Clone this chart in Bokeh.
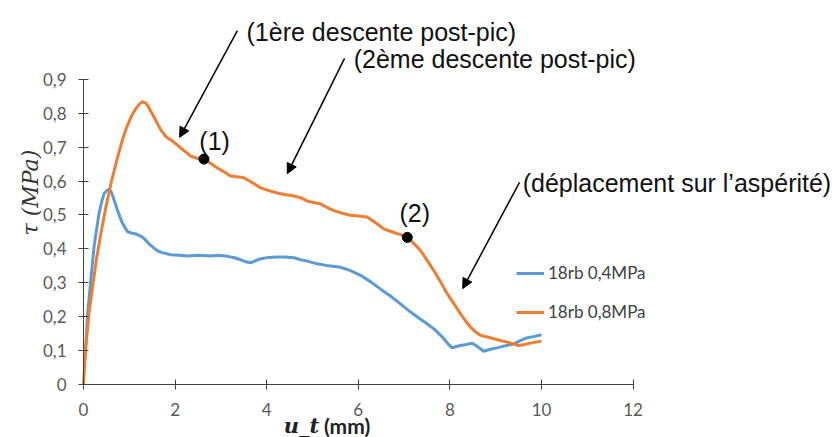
import math
from bokeh.plotting import figure
from bokeh.models import (Range1d, Label, Arrow, NormalHead, Legend, LegendItem,
                          FixedTicker)
from bokeh.embed import file_html
from bokeh.resources import INLINE

# ---- data ----
x_04 = [0.02, 0.05, 0.09, 0.12, 0.16, 0.23, 0.3, 0.34, 0.4, 0.45, 0.54, 0.6, 0.63, 0.68, 0.74, 0.8,
        0.85, 0.96, 1.05, 1.14, 1.25, 1.32, 1.43, 1.51, 1.61, 1.72, 1.91, 2.1, 2.27, 2.5, 2.78,
        2.95, 3.14, 3.3, 3.43, 3.55, 3.65, 3.75, 3.87, 4.05, 4.23, 4.4, 4.6, 4.74, 4.89, 5.1,
        5.35, 5.61, 5.83, 6.05, 6.28, 6.48, 6.7, 6.92, 7.1, 7.29, 7.47, 7.65, 7.76, 7.87, 7.96,
        8.05, 8.14, 8.23, 8.36, 8.49, 8.6, 8.74, 8.88, 9.03, 9.2, 9.4, 9.55, 9.69, 9.85, 10.0]
tau_04 = [0.063, 0.11, 0.21, 0.25, 0.308, 0.406, 0.47, 0.505, 0.54, 0.564, 0.576, 0.57, 0.559, 0.54, 0.515, 0.493,
          0.476, 0.451, 0.447, 0.444, 0.438, 0.431, 0.415, 0.406, 0.395, 0.389, 0.383, 0.381, 0.379, 0.381, 0.379,
          0.381, 0.378, 0.374, 0.368, 0.362, 0.359, 0.365, 0.371, 0.375, 0.376, 0.376, 0.374, 0.368, 0.364, 0.356,
          0.35, 0.346, 0.336, 0.322, 0.302, 0.282, 0.261, 0.238, 0.218, 0.199, 0.182, 0.164, 0.15, 0.135, 0.12,
          0.108, 0.112, 0.115, 0.118, 0.122, 0.112, 0.098, 0.104, 0.108, 0.114, 0.12, 0.13, 0.138, 0.142, 0.147]

x_08 = [0.0, 0.05, 0.12, 0.2, 0.28, 0.38, 0.49, 0.6, 0.71, 0.78, 0.85, 0.92, 0.99, 1.06, 1.14, 1.22, 1.29, 1.35,
        1.4, 1.47, 1.54, 1.62, 1.69, 1.8, 1.91, 2.02, 2.12, 2.23, 2.34, 2.48,
        2.63, 2.78, 2.92, 3.06, 3.21, 3.35, 3.5, 3.68, 3.87, 4.05, 4.23, 4.42, 4.6, 4.74, 4.89,
        5.05, 5.17, 5.32, 5.47, 5.65, 5.83, 6.0, 6.19, 6.37, 6.56, 6.7, 6.85, 6.97, 7.08, 7.22,
        7.36, 7.5, 7.65, 7.8, 7.94, 8.09, 8.23, 8.34, 8.45, 8.56, 8.67, 8.82, 8.96, 9.1, 9.25,
        9.38, 9.5, 9.63, 9.76, 9.88, 10.0]
tau_08 = [0.0, 0.112, 0.21, 0.289, 0.367, 0.446, 0.524, 0.593, 0.652, 0.688, 0.721, 0.75, 0.774, 0.795, 0.813,
          0.827, 0.834, 0.831,
          0.823, 0.806, 0.789, 0.768, 0.751, 0.731, 0.721, 0.71, 0.698, 0.686, 0.674, 0.667,
          0.664, 0.652, 0.639, 0.628, 0.615, 0.613, 0.61, 0.596, 0.58, 0.572, 0.565, 0.56, 0.556, 0.551, 0.541,
          0.536, 0.533, 0.522, 0.513, 0.505, 0.499, 0.497, 0.494, 0.478, 0.459, 0.452, 0.445, 0.44, 0.433, 0.415,
          0.395, 0.367, 0.336, 0.302, 0.268, 0.238, 0.209, 0.188, 0.169, 0.155, 0.145, 0.14, 0.135, 0.13, 0.125,
          0.12, 0.115, 0.118, 0.122, 0.125, 0.128]

pts_x = [2.63, 7.07]
pts_y = [0.665, 0.434]
pts_labels = ["(1)", "(2)"]

series_names = ["18rb 0,4MPa", "18rb 0,8MPa"]
x_ticks = [0, 2, 4, 6, 8, 10, 12]
y_ticks = [0, 0.1, 0.2, 0.3, 0.4, 0.5, 0.6, 0.7, 0.8, 0.9]
y_tick_labels = ["0", "0,1", "0,2", "0,3", "0,4", "0,5", "0,6", "0,7", "0,8", "0,9"]

BLUE = "#5B9BD5"
ORANGE = "#ED7D31"
AXIS = "#404040"
TICKTXT = "#595959"

p = figure(width=838, height=437, x_range=Range1d(-1.812, 16.485), y_range=Range1d(-0.1563, 1.1327),
           output_backend="svg", toolbar_location=None,
           min_border_left=0, min_border_right=0, min_border_top=0, min_border_bottom=0)
p.outline_line_color = None
p.xgrid.visible = False
p.ygrid.visible = False

r1 = p.line(x_04, tau_04, line_color=BLUE, line_width=3)
r2 = p.line(x_08, tau_08, line_color=ORANGE, line_width=3)
p.scatter(pts_x, pts_y, size=10, fill_color="black", line_color="black")

# axes (drawn at the data origin, inside the frame)
for ax in (p.xaxis[0], p.yaxis[0]):
    ax.fixed_location = 0
    ax.axis_line_color = AXIS
    ax.major_tick_line_color = AXIS
    ax.major_tick_in = 5
    ax.major_tick_out = 5
    ax.minor_tick_line_color = None
    ax.major_label_text_font = "Lato"
    ax.major_label_text_font_size = "17px"
    ax.major_label_text_color = TICKTXT

p.xaxis.ticker = FixedTicker(ticks=x_ticks)
p.xaxis.bounds = (0, 12)
p.xaxis.major_label_standoff = 13

p.yaxis.ticker = FixedTicker(ticks=y_ticks)
p.yaxis.major_label_overrides = dict(zip(y_ticks, y_tick_labels))
p.yaxis.bounds = (0, 0.9)
p.yaxis.major_label_standoff = 12

# axis titles
p.add_layout(Label(x=-1.157, y=0.566, text="τ (MPa)", text_font="DejaVu Serif",
                   text_font_style="italic", text_font_size="22px", angle=math.pi / 2,
                   text_align="center", text_baseline="middle", text_color="#333333"))
p.add_layout(Label(x=4.37, y=-0.121, text="u_t", text_font="DejaVu Serif",
                   text_font_style="bold italic", text_font_size="21px",
                   text_baseline="middle", text_color="#222222"))
p.add_layout(Label(x=5.25, y=-0.121, text="(mm)", text_font="Lato",
                   text_font_style="bold", text_font_size="21px",
                   text_baseline="middle", text_color="#222222"))

# legend
legend = Legend(items=[LegendItem(label=series_names[0], renderers=[r1]),
                       LegendItem(label=series_names[1], renderers=[r2])],
                location=(516, 115), border_line_color=None, background_fill_alpha=0,
                padding=0, margin=0, spacing=18, glyph_width=28, glyph_height=20,
                label_height=20, label_standoff=4, label_text_font="Lato",
                label_text_font_size="17px", label_text_color="#404040")
p.add_layout(legend)

# annotations
TXT = "#111111"
ann_font = "Liberation Sans"
for (xs, ys, xe, ye) in [(3.36, 1.044, 2.10, 0.729),
                         (5.70, 0.962, 4.45, 0.622),
                         (9.52, 0.596, 8.28, 0.283)]:
    p.add_layout(Arrow(x_start=xs, y_start=ys, x_end=xe, y_end=ye, line_color="black",
                       line_width=1.5,
                       end=NormalHead(size=10, fill_color="black", line_color="black")))

for (tx, ty, t) in [(3.56, 1.041, "(1ère descente post-pic)"),
                    (5.90, 0.959, "(2ème descente post-pic)"),
                    (9.59, 0.594, "(déplacement sur l’aspérité)"),
                    (2.53, 0.717, pts_labels[0]),
                    (6.90, 0.507, pts_labels[1])]:
    p.add_layout(Label(x=tx, y=ty, text=t, text_font=ann_font, text_font_size="25px",
                       text_baseline="middle", text_align="left", text_color=TXT))

open("out.html", "w").write(file_html(p, INLINE))
